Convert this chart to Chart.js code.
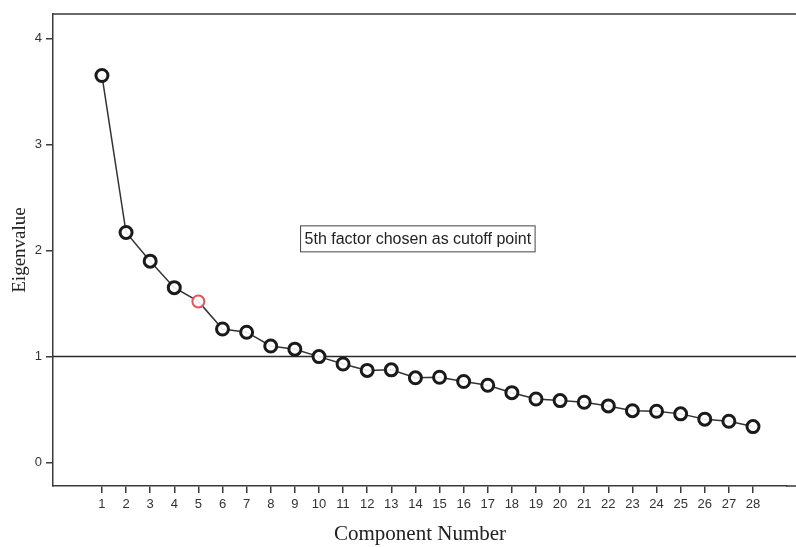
<!DOCTYPE html>
<html>
<head>
<meta charset="utf-8">
<script src="https://cdn.jsdelivr.net/npm/chart.js@4"></script>
<style>
  html, body { margin: 0; padding: 0; background: #ffffff; overflow: hidden; }
  canvas { display: block; }
</style>
</head>
<body>
<canvas id="screePlot" width="796" height="547"></canvas>
<script>
// Scree plot data
const components = [1, 2, 3, 4, 5, 6, 7, 8, 9, 10, 11, 12, 13, 14, 15, 16, 17, 18, 19, 20, 21, 22, 23, 24, 25, 26, 27, 28];
const eigenvalues = [3.65, 2.17, 1.90, 1.65, 1.52, 1.26, 1.23, 1.10, 1.07, 1.00, 0.93, 0.87, 0.875, 0.80, 0.805,
    0.765, 0.73, 0.66, 0.60, 0.585, 0.57, 0.535, 0.49, 0.485, 0.46, 0.41, 0.39, 0.34];
const yTickValues = [0, 1, 2, 3, 4];
const cutoffComponent = 5;
const kaiserLine = 1;
const noteText = '5th factor chosen as cutoff point';
const notePos = { x: 14.1, y: 2.11 };

const axisColor = '#3a3a3a';
const tickFont = { family: 'Liberation Sans', size: 13 };

const points = components.map((c, i) => ({ x: c, y: eigenvalues[i] }));
const borderColors = components.map(c => c === cutoffComponent ? '#e8505a' : '#1a1a1a');
const borderWidths = components.map(c => c === cutoffComponent ? 2 : 3);

// frame runs off the right edge of the picture, so lines go to the canvas edge
const extrasPlugin = {
    id: 'extras',
    beforeDatasetsDraw(chart) {
        const { ctx, chartArea, scales } = chart;
        const right = chart.width;
        const y = scales.y.getPixelForValue(kaiserLine);
        ctx.save();
        ctx.strokeStyle = '#2a2a2a';
        ctx.lineWidth = 1.5;
        ctx.beginPath();
        ctx.moveTo(chartArea.left, y);
        ctx.lineTo(right, y);
        ctx.stroke();

        ctx.strokeStyle = axisColor;
        ctx.beginPath();
        ctx.moveTo(chartArea.left, chartArea.top);
        ctx.lineTo(right, chartArea.top);
        ctx.moveTo(chartArea.right - 1, chartArea.bottom);
        ctx.lineTo(right, chartArea.bottom);
        ctx.stroke();

        const cx = scales.x.getPixelForValue(notePos.x);
        const cy = scales.y.getPixelForValue(notePos.y);
        ctx.font = '16px "Liberation Sans"';
        const w = ctx.measureText(noteText).width + 8;
        const h = 26;
        ctx.fillStyle = '#ffffff';
        ctx.fillRect(cx - w / 2, cy - h / 2, w, h);
        ctx.strokeStyle = '#444444';
        ctx.lineWidth = 1;
        ctx.strokeRect(cx - w / 2, cy - h / 2, w, h);
        ctx.fillStyle = '#222222';
        ctx.textAlign = 'center';
        ctx.textBaseline = 'middle';
        ctx.fillText(noteText, cx, cy + 1);
        ctx.restore();
    }
};

new Chart(document.getElementById('screePlot'), {
    type: 'scatter',
    data: {
        datasets: [{
            data: points,
            showLine: true,
            borderColor: '#333333',
            borderWidth: 1.5,
            pointRadius: 6,
            pointHoverRadius: 6,
            pointBackgroundColor: 'rgba(255,255,255,0.9)',
            pointBorderColor: borderColors,
            pointBorderWidth: borderWidths
        }]
    },
    options: {
        responsive: false,
        animation: false,
        layout: { padding: { top: 14, right: 0, left: 0, bottom: 0 } },
        plugins: {
            legend: { display: false },
            tooltip: { enabled: false }
        },
        scales: {
            x: {
                type: 'linear',
                min: -1.03,
                max: 29.41,
                afterBuildTicks: scale => {
                    scale.ticks = components.map(v => ({ value: v }));
                },
                afterFit: scale => { scale.height = 61; },
                border: { color: axisColor, width: 1.5 },
                grid: { drawOnChartArea: false, color: axisColor, tickLength: 7, lineWidth: 1.5 },
                ticks: { color: '#333333', font: tickFont, padding: 4, maxRotation: 0, autoSkip: false },
                title: {
                    display: true,
                    text: 'Component Number',
                    color: '#222222',
                    font: { family: 'Liberation Serif', size: 21 },
                    padding: { top: 4, bottom: 0 }
                }
            },
            y: {
                type: 'linear',
                min: -0.22,
                max: 4.23,
                afterBuildTicks: scale => {
                    scale.ticks = yTickValues.map(v => ({ value: v }));
                },
                afterFit: scale => { scale.width = 53; },
                border: { color: axisColor, width: 1.5 },
                grid: { drawOnChartArea: false, color: axisColor, tickLength: 7, lineWidth: 1.5 },
                ticks: { color: '#333333', font: tickFont, padding: 4 },
                title: {
                    display: true,
                    text: 'Eigenvalue',
                    color: '#222222',
                    font: { family: 'Liberation Serif', size: 19 },
                    padding: { top: 9, bottom: 0 }
                }
            }
        }
    },
    plugins: [extrasPlugin]
});
</script>
</body>
</html>
